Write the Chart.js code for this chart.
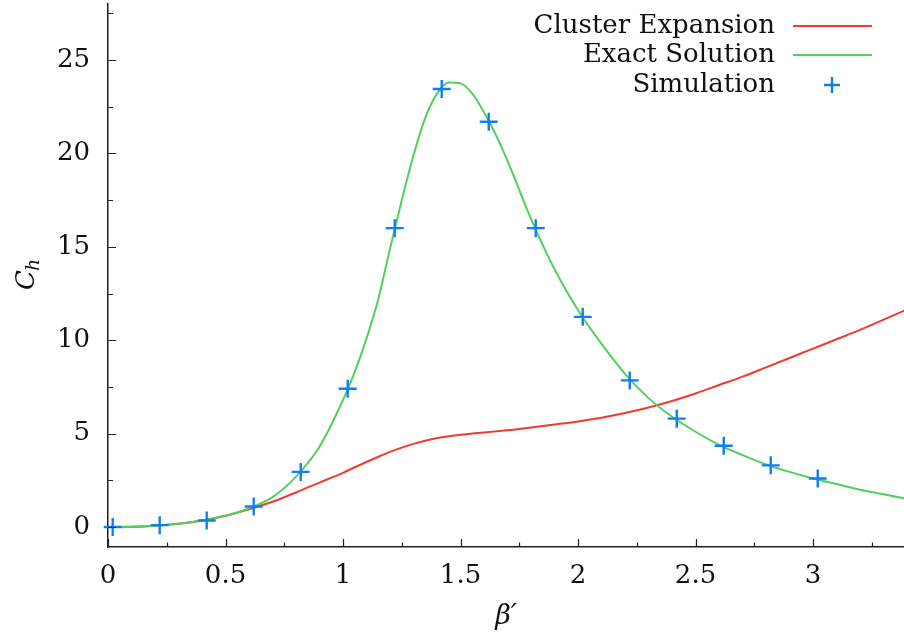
<!DOCTYPE html>
<html>
<head>
<meta charset="utf-8">
<script src="https://cdn.jsdelivr.net/npm/chart.js@4/dist/chart.umd.min.js"></script>
<style>
  html, body { margin: 0; padding: 0; background: #fff; }
  #wrap { width: 904px; height: 637px; }
</style>
</head>
<body>
<div id="wrap"><canvas id="grafica" width="904" height="637"></canvas></div>
<script>
const SERIF = "'DejaVu Serif', serif";

// curves (beta', C_h)
const betaCurva = [0, 0.1, 0.2, 0.3, 0.4, 0.5, 0.6, 0.7, 0.8, 0.9, 1.0, 1.05, 1.1, 1.15, 1.2, 1.25, 1.3, 1.35, 1.4, 1.45, 1.5, 1.55, 1.6, 1.65, 1.7, 1.8, 1.9, 2.0, 2.1, 2.2, 2.3, 2.4, 2.5, 2.6, 2.7, 2.8, 2.9, 3.0, 3.1, 3.2, 3.3, 3.4];
const exacta   = [0, 0.01, 0.07, 0.18, 0.35, 0.6, 1.0, 1.6, 2.7, 4.3, 6.8, 8.3, 10.1, 12.2, 14.9, 17.5, 19.9, 21.9, 23.2, 23.8, 23.75, 23.2, 22.2, 21.0, 19.6, 16.5, 13.8, 11.6, 9.8, 8.2, 6.9, 5.9, 5.1, 4.4, 3.85, 3.35, 2.95, 2.6, 2.3, 2.0, 1.75, 1.5];
const cluster  = [0, 0.01, 0.07, 0.18, 0.35, 0.6, 0.95, 1.35, 1.85, 2.38, 2.9, 3.2, 3.48, 3.76, 4.02, 4.25, 4.45, 4.62, 4.76, 4.86, 4.94, 5.0, 5.06, 5.12, 5.18, 5.33, 5.49, 5.65, 5.85, 6.1, 6.4, 6.75, 7.15, 7.6, 8.05, 8.55, 9.05, 9.55, 10.05, 10.55, 11.1, 11.65];

// simulation points
const betaSim = [0.02, 0.22, 0.42, 0.62, 0.82, 1.02, 1.22, 1.42, 1.62, 1.82, 2.02, 2.22, 2.42, 2.62, 2.82, 3.02];
const simulacion = [0, 0.1, 0.35, 1.1, 2.95, 7.4, 16.0, 23.45, 21.7, 16.0, 11.25, 7.85, 5.8, 4.35, 3.3, 2.6];

const xTicks = [0, 0.5, 1, 1.5, 2, 2.5, 3];
const xMinor = [0.25, 0.75, 1.25, 1.75, 2.25, 2.75, 3.25];
const yTicks = [0, 5, 10, 15, 20, 25];
const yMinor = [2.5, 7.5, 12.5, 17.5, 22.5, 27.5];

const ROJO = "rgb(242,58,48)";
const VERDE = "rgb(82,208,92)";
const AZUL = "rgb(18,126,245)";

const pares = (xs, ys) => xs.map((x, i) => ({ x, y: ys[i] }));

// inward ticks on left/bottom axes
const ticksDentro = {
  id: "ticksDentro",
  afterDraw(c) {
    const ctx = c.ctx, sx = c.scales.x, sy = c.scales.y, a = c.chartArea;
    ctx.save();
    ctx.strokeStyle = "#222";
    ctx.lineWidth = 1.2;
    ctx.beginPath();
    xTicks.forEach(v => { const p = Math.round(sx.getPixelForValue(v)) + 0.5; ctx.moveTo(p, a.bottom); ctx.lineTo(p, a.bottom - 8); });
    xMinor.forEach(v => { const p = Math.round(sx.getPixelForValue(v)) + 0.5; ctx.moveTo(p, a.bottom); ctx.lineTo(p, a.bottom - 4.5); });
    yTicks.forEach(v => { const p = Math.round(sy.getPixelForValue(v)) + 0.5; ctx.moveTo(a.left, p); ctx.lineTo(a.left + 8, p); });
    yMinor.forEach(v => { const p = Math.round(sy.getPixelForValue(v)) + 0.5; ctx.moveTo(a.left, p); ctx.lineTo(a.left + 5, p); });
    ctx.stroke();
    ctx.restore();
  }
};

// y title with subscript
const tituloY = {
  id: "tituloY",
  afterDraw(c) {
    const ctx = c.ctx;
    ctx.save();
    ctx.translate(24, 276);
    ctx.rotate(-Math.PI / 2);
    ctx.fillStyle = "#111";
    ctx.textBaseline = "alphabetic";
    ctx.font = `italic 26px ${SERIF}`;
    const w = ctx.measureText("C").width;
    ctx.textAlign = "left";
    ctx.fillText("C", -14, 10);
    ctx.font = `italic 19px ${SERIF}`;
    ctx.fillText("h", -15 + w, 15);
    ctx.restore();
  }
};

// legend: right aligned text, sample to the right
const leyenda = {
  id: "leyenda",
  afterDraw(c) {
    const ctx = c.ctx;
    const filas = [
      { ds: c.data.datasets[1], y: 26 },
      { ds: c.data.datasets[2], y: 55 },
      { ds: c.data.datasets[0], y: 85 }
    ];
    ctx.save();
    ctx.font = `26px ${SERIF}`;
    ctx.textAlign = "right";
    ctx.textBaseline = "middle";
    filas.forEach(f => {
      ctx.fillStyle = "#111";
      ctx.fillText(f.ds.label, 775, f.y);
      ctx.strokeStyle = f.ds.borderColor;
      ctx.lineWidth = f.ds.borderWidth;
      ctx.beginPath();
      if (f.ds.showLine === false) {
        ctx.moveTo(832 - 8, f.y); ctx.lineTo(832 + 8, f.y);
        ctx.moveTo(832, f.y - 8); ctx.lineTo(832, f.y + 8);
      } else {
        ctx.moveTo(793, f.y); ctx.lineTo(872, f.y);
      }
      ctx.stroke();
    });
    ctx.restore();
  }
};

new Chart(document.getElementById("grafica"), {
  type: "line",
  data: {
    datasets: [
      {
        label: "Simulation",
        data: pares(betaSim, simulacion),
        showLine: false,
        pointStyle: "cross",
        pointRadius: 9,
        pointBorderWidth: 2.4,
        borderWidth: 2.4,
        borderColor: AZUL,
        backgroundColor: AZUL,
        clip: false,
        order: 0
      },
      {
        label: "Cluster Expansion",
        data: pares(betaCurva, cluster),
        borderColor: ROJO,
        borderWidth: 2,
        pointRadius: 0,
        cubicInterpolationMode: "monotone",
        order: 2
      },
      {
        label: "Exact Solution",
        data: pares(betaCurva, exacta),
        borderColor: VERDE,
        borderWidth: 2,
        pointRadius: 0,
        cubicInterpolationMode: "monotone",
        order: 1
      }
    ]
  },
  options: {
    responsive: false,
    animation: false,
    layout: { autoPadding: false, padding: { top: 4, right: 0, left: 0, bottom: 0 } },
    scales: {
      x: {
        type: "linear",
        min: 0,
        max: 3.387,
        afterFit: s => { s.height = 90; s.paddingLeft = 0; s.paddingRight = 0; },
        afterBuildTicks: s => { s.ticks = xTicks.map(v => ({ value: v })); },
        grid: { display: false, drawTicks: false },
        border: { display: true, color: "#222", width: 1.5 },
        ticks: { color: "#111", padding: 14, maxRotation: 0, font: { family: SERIF, size: 26 }, callback: v => String(v) },
        title: { display: true, text: "β′", color: "#111", font: { family: SERIF, size: 27, style: "italic" }, padding: { top: 0, bottom: 4 } }
      },
      y: {
        min: -1.07,
        max: 28,
        afterFit: s => { s.width = 108; s.paddingTop = 0; s.paddingBottom = 0; },
        afterBuildTicks: s => { s.ticks = yTicks.map(v => ({ value: v })); },
        grid: { display: false, drawTicks: false },
        border: { display: true, color: "#222", width: 1.5 },
        ticks: { color: "#111", padding: 18, font: { family: SERIF, size: 26 }, callback: v => String(v) }
      }
    },
    plugins: {
      legend: { display: false },
      tooltip: { enabled: false }
    }
  },
  plugins: [ticksDentro, tituloY, leyenda]
});
</script>
</body>
</html>
